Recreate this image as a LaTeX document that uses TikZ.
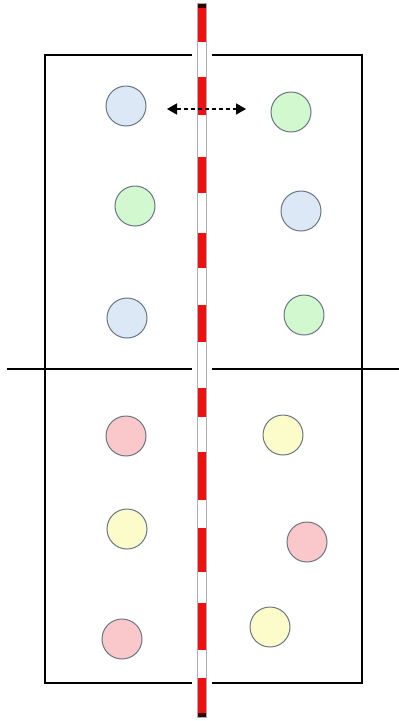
\documentclass[tikz,border=0pt]{standalone}
\usetikzlibrary{arrows.meta}
\definecolor{cblue}{HTML}{DCE8F6}
\definecolor{cgreen}{HTML}{D2F8CF}
\definecolor{cpink}{HTML}{FAC8CA}
\definecolor{cyellow}{HTML}{FCFCCB}
\definecolor{cedge}{HTML}{6A7684}
\definecolor{polered}{HTML}{EE1111}
\tikzset{
  ball/.style={circle, draw=cedge, line width=1pt, minimum size=40pt, inner sep=0pt},
  frame/.style={line width=2pt, black},
  stripe/.style={fill=polered, draw=none},
  swap/.style={dash pattern=on 4pt off 3pt, line width=1.4pt, {Triangle[length=10pt,width=11pt]}-{Triangle[length=10pt,width=11pt]}}
}
\begin{document}
\begin{tikzpicture}[x=1pt,y=-1pt]
\useasboundingbox (0,0) rectangle (399,721);
\fill[white] (0,0) rectangle (399,721);
% frame
\draw[frame] (192,55) -- (45,55) -- (45,683) -- (192,683);
\draw[frame] (212,55) -- (362,55) -- (362,683) -- (212,683);
\draw[frame] (7,369) -- (192,369);
\draw[frame] (212,369) -- (399,369);
% pole
\draw[draw=gray!65, fill=white, line width=1.6pt] (197.5,4) rectangle (206.5,717);
\foreach \a/\b in {8/42,77/115,157/193,233/268,305/342,388/417,452/500,528/572,603/650,678/713}
  \fill[stripe] (198.3,\a) rectangle (205.7,\b);
\fill[black!80!red] (198.3,4) rectangle (205.7,8);
\fill[black!80!red] (198.3,713) rectangle (205.7,717);
% circles
\node[ball, fill=cblue]   (l1) at (126,106) {};
\node[ball, fill=cgreen]  (l2) at (135,206) {};
\node[ball, fill=cblue]   (l3) at (127,318) {};
\node[ball, fill=cpink]   (l4) at (126,436) {};
\node[ball, fill=cyellow] (l5) at (127,529) {};
\node[ball, fill=cpink]   (l6) at (122,639) {};
\node[ball, fill=cgreen]  (r1) at (291,112) {};
\node[ball, fill=cblue]   (r2) at (301,211) {};
\node[ball, fill=cgreen]  (r3) at (304,315) {};
\node[ball, fill=cyellow] (r4) at (283,435) {};
\node[ball, fill=cpink]   (r5) at (307,542) {};
\node[ball, fill=cyellow] (r6) at (270,627) {};
% arrow
\coordinate (aL) at (167,109);
\coordinate (aR) at (246,109);
\draw[swap] (aL) -- (aR);
\end{tikzpicture}
\end{document}
